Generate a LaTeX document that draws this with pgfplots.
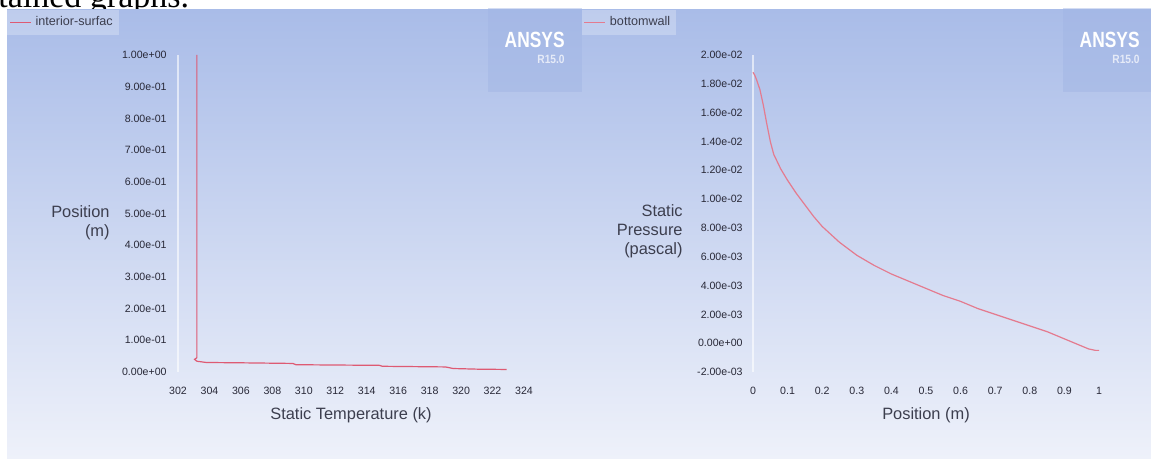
\documentclass[border=0pt]{standalone}
\usepackage{pgfplots}
\pgfplotsset{compat=1.18}
\usepackage{fontspec}
\setmainfont{Liberation Sans}
\newfontfamily\seriffont{Liberation Serif}
\definecolor{bgtop}{RGB}{169,188,232}
\definecolor{bgbot}{RGB}{238,241,250}
\definecolor{curve}{RGB}{222,90,115}
\definecolor{tick}{RGB}{40,40,55}
\definecolor{lab}{RGB}{60,62,78}
\definecolor{logobox}{RGB}{160,180,228}
\pgfplotsset{
  panel/.style={
    scale only axis, width=173pt, height=158.5pt,
    axis line style={draw=none}, major tick length=0pt,
    scaled ticks=false, clip=false,
    yticklabel style={font=\fontsize{5.3}{6}\selectfont, text=tick, anchor=east, inner sep=0pt, xshift=-5.5pt},
    xticklabel style={font=\fontsize{5.3}{6}\selectfont, text=tick, anchor=center, inner sep=0pt, yshift=-9.5pt},
    xlabel style={font=\fontsize{8.2}{9.5}\selectfont, text=lab, at={(axis description cs:0.5,0)}, anchor=center, yshift=-21.5pt, inner sep=0pt},
    legend style={anchor=north west, draw=none, fill=white, fill opacity=0.25, text opacity=1,
      font=\fontsize{6.3}{7}\selectfont, text=lab, inner xsep=1pt, inner ysep=1pt},
    legend image code/.code={\draw[#1] (0pt,0pt) -- (10.5pt,0pt);},
  }
}
\begin{document}
\begin{tikzpicture}
\useasboundingbox (0,0) rectangle (575.5pt,-229.5pt);
\node[anchor=base west, inner sep=0pt, font=\seriffont\fontsize{17}{20}\selectfont] at (-1pt,-3.75pt) {tained graphs.};
\shade[top color=bgtop, bottom color=bgbot] (3.5pt,-4.6pt) rectangle (575.5pt,-229.5pt);
% logo boxes
\fill[logobox, opacity=0.45] (244pt,-4pt) rectangle (291pt,-46pt);
\fill[logobox, opacity=0.45] (531.5pt,-4pt) rectangle (575.5pt,-46pt);
\foreach \xr in {282.5pt,570pt}{
  \node[anchor=east, inner sep=0pt, text=white, font=\bfseries\fontsize{11}{13}\selectfont] at (\xr,-20pt) {\scalebox{0.79}[1]{ANSYS}};
  \node[anchor=east, inner sep=0pt, text=white, opacity=0.7, font=\bfseries\fontsize{6}{7}\selectfont] at (\xr,-29.5pt) {\scalebox{0.85}[1]{R15.0}};
}
% left panel
\begin{axis}[panel, at={(89pt,-186pt)}, anchor=south west,
  xmin=302, xmax=324, ymin=0, ymax=1,
  xtick={302,304,306,308,310,312,314,316,318,320,322,324},
  xticklabels={302,304,306,308,310,312,314,316,318,320,322,324},
  ytick={0,0.1,0.2,0.3,0.4,0.5,0.6,0.7,0.8,0.9,1},
  yticklabels={0.00e+00,1.00e-01,2.00e-01,3.00e-01,4.00e-01,5.00e-01,6.00e-01,7.00e-01,8.00e-01,9.00e-01,1.00e+00},
  xlabel={Static Temperature (k)},
  legend style={at={(axis description cs:-0.494,1.142)}},
]
\draw[white, opacity=0.6, line width=1pt] (axis cs:302,0) -- (axis cs:302,1);
\addplot[curve, line width=0.6pt] coordinates {
  (303.2,1.0) (303.2,0.045) (303.05,0.040) (303.2,0.034) (303.8,0.030)
  (306,0.029) (309.3,0.027) (309.5,0.023) (312,0.022) (314.8,0.021)
  (315,0.018) (317,0.017) (319,0.016) (319.5,0.011) (321,0.009) (322.9,0.008)
};
\addlegendentry{interior-surfac}
\node[anchor=east, align=right, inner sep=0pt, xshift=-34pt, yshift=-4.5pt, text=lab,
  font=\fontsize{8.2}{9.5}\selectfont] at (rel axis cs:0,0.5) {Position\\(m)};
\end{axis}
% right panel
\begin{axis}[panel, at={(376.5pt,-186pt)}, anchor=south west,
  xmin=0, xmax=1, ymin=-0.002, ymax=0.02,
  xtick={0,0.1,0.2,0.3,0.4,0.5,0.6,0.7,0.8,0.9,1},
  xticklabels={0,0.1,0.2,0.3,0.4,0.5,0.6,0.7,0.8,0.9,1},
  ytick={-0.002,0,0.002,0.004,0.006,0.008,0.01,0.012,0.014,0.016,0.018,0.02},
  yticklabels={-2.00e-03,0.00e+00,2.00e-03,4.00e-03,6.00e-03,8.00e-03,1.00e-02,1.20e-02,1.40e-02,1.60e-02,1.80e-02,2.00e-02},
  yticklabel style={xshift=0.5pt},
  xlabel={Position (m)},
  legend style={at={(axis description cs:-0.496,1.142)}},
]
\draw[white, opacity=0.6, line width=1pt] (axis cs:0,-0.002) -- (axis cs:0,0.02);
\addplot[curve!80!white, line width=0.6pt] coordinates {
  (0.000,0.0188) (0.005,0.0186) (0.010,0.0183) (0.020,0.0176) (0.030,0.0165)
  (0.040,0.0152) (0.050,0.0140) (0.060,0.0131) (0.080,0.0121) (0.100,0.0113)
  (0.125,0.0104) (0.150,0.0096) (0.175,0.0088) (0.200,0.0081) (0.250,0.0070)
  (0.300,0.0061) (0.350,0.0054) (0.400,0.0048) (0.450,0.0043) (0.500,0.0038)
  (0.550,0.0033) (0.600,0.0029) (0.650,0.0024) (0.700,0.0020) (0.750,0.0016)
  (0.800,0.0012) (0.850,0.0008) (0.900,0.0003) (0.940,-0.0001) (0.970,-0.0004)
  (0.990,-0.0005) (1.000,-0.0005)
};
\addlegendentry{bottomwall}
\node[anchor=east, align=right, inner sep=0pt, xshift=-35pt, yshift=-9pt, text=lab,
  font=\fontsize{8.2}{9.5}\selectfont] at (rel axis cs:0,0.5) {Static\\Pressure\\(pascal)};
\end{axis}
\end{tikzpicture}
\end{document}
